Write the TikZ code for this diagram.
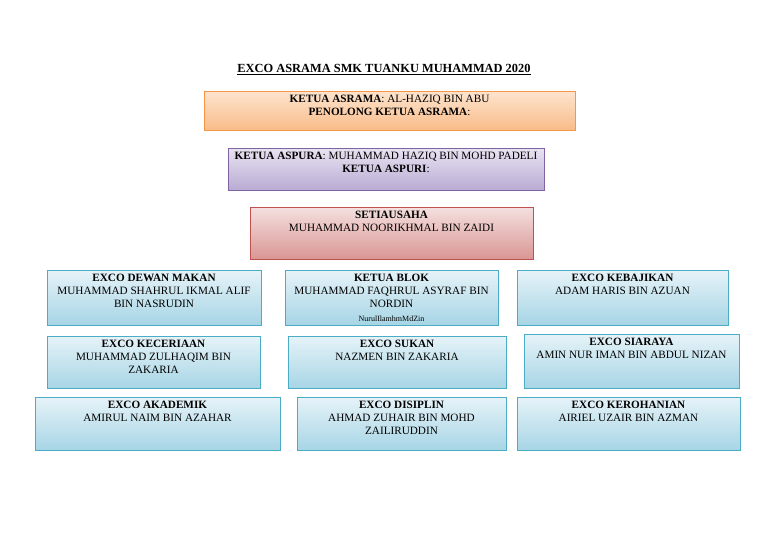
\documentclass[tikz,border=0pt]{standalone}
\usepackage{fontspec}
\setmainfont{Liberation Serif}
\definecolor{bT}{HTML}{E6F3F8}\definecolor{bB}{HTML}{A7D5E5}\definecolor{bD}{HTML}{4BACC6}
\definecolor{oT}{HTML}{FDE4CE}\definecolor{oB}{HTML}{F9BC8A}\definecolor{oD}{HTML}{F79646}
\definecolor{pT}{HTML}{E8E3F1}\definecolor{pB}{HTML}{B9ABD3}\definecolor{pD}{HTML}{8064A2}
\definecolor{rT}{HTML}{F4E0DF}\definecolor{rB}{HTML}{D99694}\definecolor{rD}{HTML}{C0504D}
\tikzset{
 bx/.style={draw=bD,line width=0.8pt,top color=bT,bottom color=bB},
 ox/.style={draw=oD,line width=0.8pt,top color=oT,bottom color=oB},
 px/.style={draw=pD,line width=0.8pt,top color=pT,bottom color=pB},
 rx/.style={draw=rD,line width=0.8pt,top color=rT,bottom color=rB},
 tx/.style={anchor=north,align=center,font=\fontsize{11.2}{13.3}\selectfont,inner sep=0pt}
}
\begin{document}
\begin{tikzpicture}[x=1pt,y=-1pt]
\useasboundingbox (0,0) rectangle (768,543);
\fill[white] (0,0) rectangle (768,543);
\node[font=\fontsize{12.4}{14}\selectfont\bfseries,inner sep=0pt] (title) at (384,68) {EXCO ASRAMA SMK TUANKU MUHAMMAD 2020};
\draw[line width=0.7pt] ([yshift=-1.5pt]title.south west) -- ([yshift=-1.5pt]title.south east);
\newcommand\bbox[7]{\path[#1] (#2,#3) rectangle (#4,#5); \node[tx] (#6) at ({(#2+#4)/2},{#3+3.5}) {#7};}
\bbox{ox}{204}{91}{575}{130}{asrama}{\textbf{KETUA ASRAMA}: AL-HAZIQ BIN ABU\\\textbf{PENOLONG KETUA ASRAMA}:}
\bbox{px}{228}{148}{544}{190}{aspura}{\textbf{KETUA ASPURA}: MUHAMMAD HAZIQ BIN MOHD PADELI\\\textbf{KETUA ASPURI}:}
\bbox{rx}{250}{207}{533}{259}{setia}{\textbf{SETIAUSAHA}\\MUHAMMAD NOORIKHMAL BIN ZAIDI}
\bbox{bx}{47}{270}{261}{325}{dewan}{\textbf{EXCO DEWAN MAKAN}\\MUHAMMAD SHAHRUL IKMAL ALIF\\BIN NASRUDIN}
\begin{scope}
\clip (285,270) rectangle (498,325);
\bbox{bx}{285}{270}{498}{325}{blok}{\textbf{KETUA BLOK}\\MUHAMMAD FAQHRUL ASYRAF BIN\\NORDIN\\{\fontsize{8}{8}\selectfont NurulIlamhmMdZin}}
\end{scope}
\draw[bD,line width=0.8pt] (285,270) rectangle (498,325);
\bbox{bx}{517}{270}{728}{325}{kebajikan}{\textbf{EXCO KEBAJIKAN}\\ADAM HARIS BIN AZUAN}
\bbox{bx}{47}{336}{260}{388}{keceriaan}{\textbf{EXCO KECERIAAN}\\MUHAMMAD ZULHAQIM BIN\\ZAKARIA}
\bbox{bx}{288}{336}{506}{388}{sukan}{\textbf{EXCO SUKAN}\\NAZMEN BIN ZAKARIA}
\bbox{bx}{524}{334}{739}{388}{siaraya}{\textbf{EXCO SIARAYA}\\AMIN NUR IMAN BIN ABDUL NIZAN}
\bbox{bx}{35}{397}{280}{450}{akademik}{\textbf{EXCO AKADEMIK}\\AMIRUL NAIM BIN AZAHAR}
\bbox{bx}{297}{397}{506}{450}{disiplin}{\textbf{EXCO DISIPLIN}\\AHMAD ZUHAIR BIN MOHD\\ZAILIRUDDIN}
\bbox{bx}{517}{397}{740}{450}{kerohanian}{\textbf{EXCO KEROHANIAN}\\AIRIEL UZAIR BIN AZMAN}
\end{tikzpicture}
\end{document}
